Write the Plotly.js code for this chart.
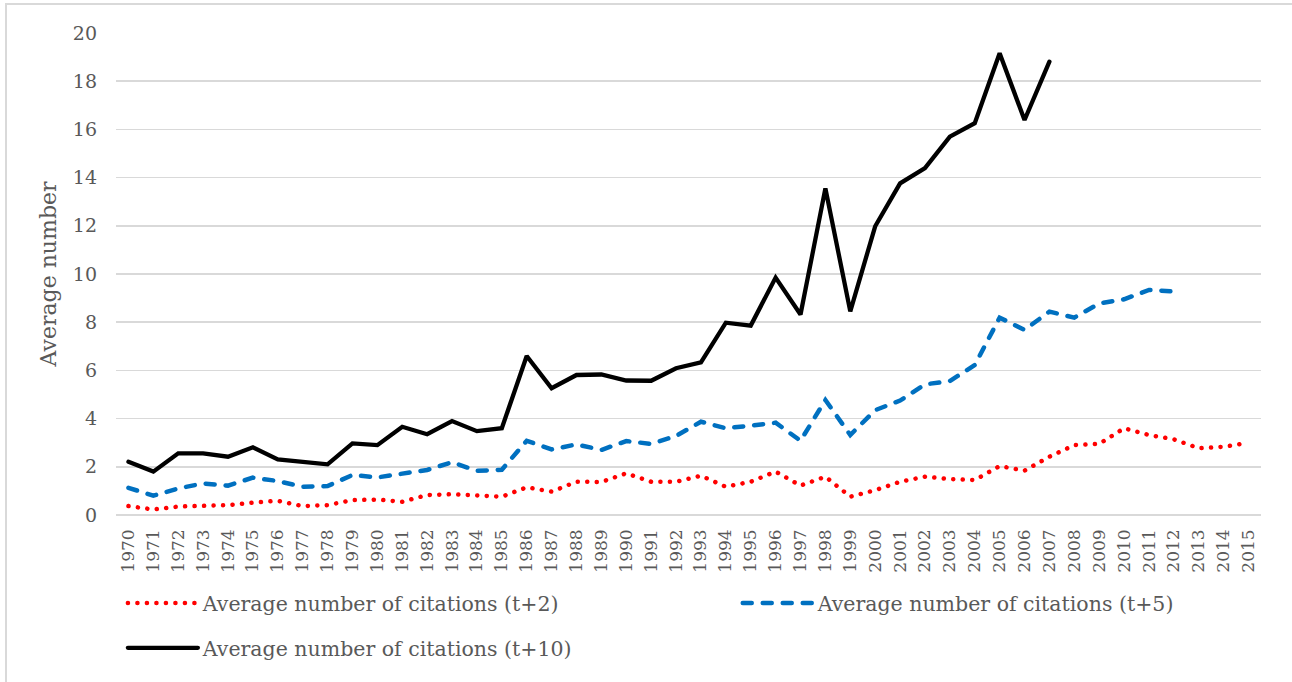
<!DOCTYPE html>
<html>
<head>
<meta charset="utf-8">
<script src="https://cdn.plot.ly/plotly-3.0.1.min.js"></script>
<style>
  html, body { margin: 0; padding: 0; background: #fff; overflow: hidden; }
  #frame { position: absolute; left: 5px; top: 3px; width: 1400px; height: 800px;
           border-left: 2px solid #d9d9d9; border-top: 2px solid #d9d9d9; }
  #chart { position: absolute; left: 0; top: 0; width: 1292px; height: 682px; }
  /* round caps so the dotted line draws round dots, as in the original */
  #chart path.js-line { stroke-linecap: round; }
</style>
</head>
<body>
<div id="frame"></div>
<div id="chart"></div>
<script>
/* ---- Data ---- */
const YEARS = [];
for (let y = 1970; y <= 2015; y++) YEARS.push(String(y));

const CIT_T2 = [
  0.37, 0.23, 0.35, 0.37, 0.41, 0.51, 0.59, 0.37, 0.41, 0.62,
  0.64, 0.55, 0.83, 0.86, 0.79, 0.76, 1.15, 0.97, 1.38, 1.37,
  1.73, 1.38, 1.38, 1.63, 1.17, 1.38, 1.80, 1.22, 1.59, 0.76,
  1.03, 1.38, 1.59, 1.49, 1.45, 2.03, 1.84, 2.42, 2.90, 2.95,
  3.60, 3.32, 3.14, 2.77, 2.83, 3.00,
];

const CIT_T5 = [
  1.13, 0.80, 1.10, 1.31, 1.22, 1.55, 1.41, 1.17, 1.20, 1.66,
  1.56, 1.70, 1.87, 2.19, 1.83, 1.88, 3.08, 2.72, 2.93, 2.70,
  3.07, 2.95, 3.28, 3.87, 3.60, 3.71, 3.83, 3.08, 4.77, 3.32,
  4.35, 4.75, 5.42, 5.56, 6.22, 8.19, 7.68, 8.44, 8.19, 8.78,
  8.95, 9.34, 9.27,
];

const CIT_T10 = [
  2.21, 1.80, 2.56, 2.56, 2.42, 2.81, 2.31, 2.21, 2.10, 2.97,
  2.90, 3.66, 3.35, 3.90, 3.48, 3.60, 6.60, 5.26, 5.81, 5.83,
  5.58, 5.57, 6.09, 6.33, 7.98, 7.86, 9.85, 8.32, 13.55, 8.45,
  11.98, 13.76, 14.39, 15.70, 16.26, 19.16, 16.39, 18.81,
];

const SERIES_NAMES = [
  'Average number of citations (t+2)',
  'Average number of citations (t+5)',
  'Average number of citations (t+10)',
];

/* ---- Styling ---- */
const FONT = "'DejaVu Serif', 'Liberation Serif', serif";
const TEXT_GREY = '#595959';
const GRID_GREY = '#d9d9d9';

const traces = [
  {
    x: YEARS.slice(0, CIT_T2.length), y: CIT_T2,
    type: 'scatter', mode: 'lines', name: SERIES_NAMES[0], legend: 'legend',
    line: { color: '#ff0000', width: 4.5, dash: '0.1px,9.4px' },
  },
  {
    x: YEARS.slice(0, CIT_T5.length), y: CIT_T5,
    type: 'scatter', mode: 'lines', name: SERIES_NAMES[1], legend: 'legend2',
    line: { color: '#0070c0', width: 4.5, dash: '9px,11px' },
  },
  {
    x: YEARS.slice(0, CIT_T10.length), y: CIT_T10,
    type: 'scatter', mode: 'lines', name: SERIES_NAMES[2], legend: 'legend3',
    line: { color: '#000000', width: 4.3 },
  },
];

// one legend per entry, so the rows sit where the original puts them
const legendBase = {
  orientation: 'h',
  xanchor: 'left',
  yanchor: 'middle',
  itemwidth: 70,
  bgcolor: 'rgba(0,0,0,0)',
  font: { family: FONT, size: 20.5, color: TEXT_GREY },
};

const layout = {
  width: 1292,
  height: 682,
  paper_bgcolor: 'rgba(0,0,0,0)',
  plot_bgcolor: 'rgba(0,0,0,0)',
  font: { family: FONT, size: 18, color: TEXT_GREY },
  margin: { l: 116, r: 31, t: 33, b: 167, autoexpand: false },
  showlegend: true,
  legend:  { ...legendBase, x: 0.006, y: -0.183 },
  legend2: { ...legendBase, x: 0.543, y: -0.183 },
  legend3: { ...legendBase, x: 0.006, y: -0.276 },
  xaxis: {
    type: 'category',
    categoryorder: 'array',
    categoryarray: YEARS,
    range: [-0.5, YEARS.length - 0.5],
    tickangle: -90,
    tickfont: { family: FONT, size: 17, color: TEXT_GREY },
    showgrid: false,
    showline: false,
    zeroline: false,
    ticks: '',
    ticklabelstandoff: 10,
    automargin: false,
  },
  yaxis: {
    range: [0, 20],
    dtick: 2,
    tick0: 0,
    showgrid: true,
    gridcolor: GRID_GREY,
    gridwidth: 1.5,
    zeroline: true,
    zerolinecolor: GRID_GREY,
    zerolinewidth: 1.5,
    showline: false,
    ticks: '',
    ticklabelstandoff: 18,
    automargin: false,
    tickfont: { family: FONT, size: 19, color: TEXT_GREY },
    title: { text: 'Average number', font: { family: FONT, size: 22, color: TEXT_GREY }, standoff: 10 },
  },
};

Plotly.newPlot('chart', traces, layout, { displayModeBar: false, staticPlot: true });
</script>
</body>
</html>
